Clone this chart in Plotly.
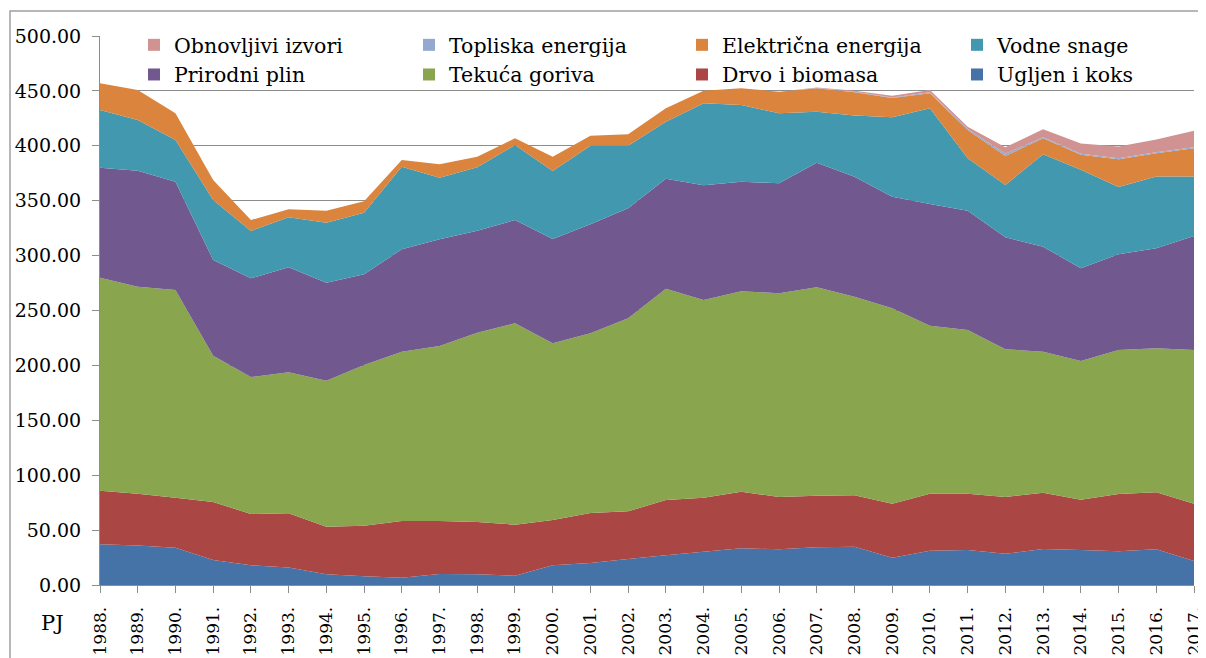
import plotly.graph_objects as go

years = list(range(1988, 2018))
year_labels = [f"{y}." for y in years]

ugljen = [37.0, 36.0, 34.0, 22.8, 18.0, 16.0, 9.7, 7.9, 6.7, 10.0,
          9.7, 8.5, 18.0, 20.0, 23.7, 27.0, 30.3, 33.4, 32.5, 34.3,
          34.9, 24.9, 31.3, 31.9, 28.5, 32.8, 31.9, 30.7, 32.5, 21.9]
drvo = [48.9, 47.2, 45.5, 52.8, 46.7, 49.3, 43.4, 46.1, 51.6, 48.3,
        47.7, 46.4, 41.2, 45.6, 43.4, 50.4, 49.2, 51.6, 47.6, 47.0,
        46.8, 49.1, 51.9, 51.3, 51.6, 51.3, 45.8, 52.2, 51.9, 52.1]
tekuca = [194.0, 188.5, 189.2, 133.2, 124.7, 128.4, 133.0, 146.4, 154.2, 159.4,
          172.4, 183.4, 160.9, 163.6, 175.8, 192.5, 180.1, 182.5, 185.6, 189.8,
          180.9, 178.0, 153.0, 149.0, 134.6, 128.4, 126.3, 131.1, 131.2, 140.0]
plin = [100.1, 105.6, 98.6, 87.2, 89.9, 95.6, 89.2, 82.6, 93.2, 97.1,
        92.9, 94.1, 95.0, 99.3, 100.2, 100.1, 104.4, 99.8, 100.1, 113.5,
        109.3, 101.7, 110.8, 108.7, 102.0, 95.6, 84.4, 87.2, 91.0, 103.8]
vodne = [52.6, 46.2, 38.0, 54.6, 43.1, 45.6, 54.7, 56.1, 75.3, 56.2,
         57.7, 68.3, 61.9, 71.6, 57.0, 52.0, 74.7, 69.9, 63.8, 46.5,
         55.6, 72.3, 87.2, 47.7, 47.6, 84.3, 89.7, 61.2, 65.4, 54.2]
elektricna = [24.3, 27.3, 24.3, 18.3, 10.0, 7.3, 10.9, 10.3, 6.1, 12.1,
              9.7, 6.1, 13.1, 9.1, 10.4, 12.2, 11.5, 15.2, 19.7, 21.3,
              21.2, 17.5, 13.6, 25.8, 26.4, 14.4, 13.7, 25.3, 21.2, 25.7]
topliska = [0.0, 0.0, 0.0, 0.0, 0.0, 0.0, 0.0, 0.0, 0.0, 0.0,
            0.0, 0.0, 0.0, 0.0, 0.0, 0.0, 0.0, 0.0, 0.0, 0.3,
            0.5, 0.5, 1.0, 1.0, 2.0, 1.0, 1.0, 1.0, 1.0, 1.0]
obnovljivi = [0.0, 0.0, 0.0, 0.0, 0.0, 0.0, 0.0, 0.0, 0.0, 0.0,
              0.0, 0.0, 0.0, 0.0, 0.0, 0.0, 0.0, 0.0, 0.0, 0.5,
              1.0, 1.5, 2.0, 2.0, 6.0, 7.2, 9.4, 10.7, 11.6, 15.0]

names = ["Ugljen i koks", "Drvo i biomasa", "Tekuća goriva", "Prirodni plin",
         "Vodne snage", "Električna energija", "Topliska energija", "Obnovljivi izvori"]
values = [ugljen, drvo, tekuca, plin, vodne, elektricna, topliska, obnovljivi]
colors = ["#4572A7", "#AA4643", "#89A54E", "#71588F",
          "#4198AF", "#DB843D", "#93A9CF", "#D19392"]
color_of = dict(zip(names, colors))

legend_columns = [["Obnovljivi izvori", "Prirodni plin"],
                  ["Topliska energija", "Tekuća goriva"],
                  ["Električna energija", "Drvo i biomasa"],
                  ["Vodne snage", "Ugljen i koks"]]

FONT = "DejaVu Serif"
GRID = "#8c8c8c"

fig = go.Figure()
for name, vals, col in zip(names, values, colors):
    fig.add_trace(go.Scatter(x=years, y=vals, name=name, stackgroup="one",
                             mode="none", fillcolor=col, showlegend=False))

# page body has an 8px margin: the figure is drawn 8px right and down
OFF = 8
W, H = 1206 - OFF, 658 - OFF
# target plot area in page pixels: x 100..1194, y 36..585
L, R, T, B = 100 - OFF, 1206 - 1194, 36 - OFF, 658 - 585
pw = W - L - R
ph = H - T - B

def px_x(p):
    return (p - OFF - L) / pw

def px_y(p):
    return (H - B - (p - OFF)) / ph

legend_lefts = [134, 409, 682, 957]
layout_legends = {}
for i, col_names in enumerate(legend_columns):
    lid = "legend" if i == 0 else f"legend{i+1}"
    for nm in col_names:
        fig.add_trace(go.Scatter(x=[None], y=[None], mode="markers", name=nm,
                                 marker=dict(symbol="square", size=12, color=color_of[nm]),
                                 legend=lid, legendgroup=nm, showlegend=True))
    layout_legends[lid] = dict(x=px_x(legend_lefts[i]), y=px_y(25), xanchor="left", yanchor="top",
                               orientation="v", bgcolor="rgba(0,0,0,0)", borderwidth=0,
                               font=dict(family=FONT, size=20.5, color="black"),
                               tracegroupgap=0, itemwidth=30)

fig.update_layout(
    width=W, height=H,
    margin=dict(l=L, r=R, t=T, b=B, pad=0, autoexpand=False),
    paper_bgcolor="white", plot_bgcolor="white",
    font=dict(family=FONT, size=19, color="black"),
    showlegend=True,
    **layout_legends,
)

fig.update_xaxes(range=[1988, 2017], tickvals=years, ticktext=year_labels, tickangle=-90,
                 ticks="outside", ticklen=7, tickcolor=GRID, showline=True, linecolor=GRID,
                 showgrid=False, zeroline=False, ticklabelstandoff=7, automargin=False,
                 ticklabeloverflow="allow",
                 tickfont=dict(family=FONT, size=17, color="black"))
fig.update_yaxes(range=[0, 500], dtick=50, tick0=0, tickformat=".2f",
                 ticks="outside", ticklen=7, tickcolor=GRID, showline=True, linecolor=GRID,
                 showgrid=True, gridcolor=GRID, gridwidth=1, zeroline=False,
                 ticklabelstandoff=7, automargin=False,
                 tickfont=dict(family=FONT, size=19, color="black"))

fig.add_shape(type="rect", xref="paper", yref="paper",
              x0=px_x(10), x1=px_x(1215), y0=px_y(668), y1=px_y(11),
              line=dict(color="#a0a0a0", width=1.5), fillcolor="rgba(0,0,0,0)", layer="below")

fig.add_annotation(text="PJ", xref="paper", yref="paper", x=px_x(52), y=px_y(623),
                   xanchor="center", yanchor="middle", showarrow=False,
                   font=dict(family=FONT, size=21, color="black"))

fig.write_html("out.html")
